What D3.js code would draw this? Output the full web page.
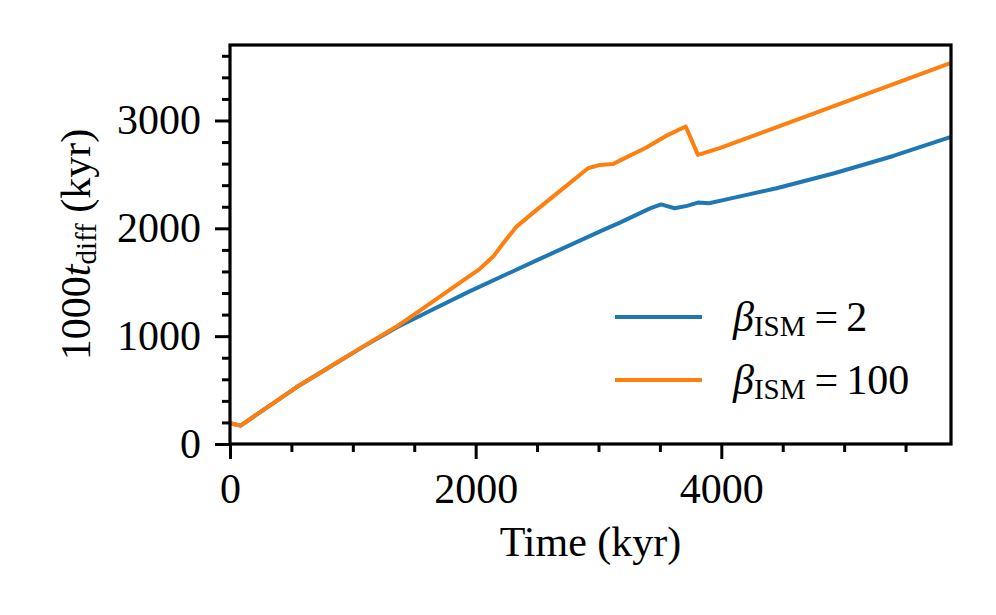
<!DOCTYPE html>
<html>
<head>
<meta charset="utf-8">
<script src="https://cdn.jsdelivr.net/npm/d3@7"></script>
<style>
  body { margin: 0; background: #fff; }
  svg text { font-family: "Liberation Serif", "Times New Roman", serif; fill: #000; }
</style>
</head>
<body>
<svg id="chart" width="996" height="615"></svg>
<script>
// time in kyr, values in kyr (1000 * t_diff)
var timeBeta2 = [0, 87, 270, 410, 540, 815, 1085, 1360, 1630, 1950, 2500, 3040, 3170, 3420, 3510, 3620, 3720, 3810, 3900, 4070, 4450, 4920, 5400, 5870];
var diffBeta2 = [192, 170, 315, 424, 526, 717, 903, 1083, 1235, 1415, 1705, 1985, 2050, 2185, 2222, 2186, 2208, 2239, 2233, 2275, 2372, 2511, 2671, 2848];

var timeBeta100 = [0, 87, 270, 410, 540, 815, 1085, 1360, 1546, 1817, 2034, 2143, 2224, 2333, 2496, 2685, 2915, 3011, 3119, 3173, 3390, 3550, 3710, 3810, 3987, 5870];
var diffBeta100 = [192, 170, 315, 424, 526, 717, 905, 1092, 1237, 1452, 1625, 1738, 1862, 2016, 2171, 2345, 2557, 2588, 2597, 2628, 2749, 2857, 2944, 2681, 2743, 3535];

var xMajor = [0, 2000, 4000];
var yMajor = [0, 1000, 2000, 3000];
var legendNums = ["2", "100"];
var colors = ["#1f77b4", "#ff7f0e"];

var svg = d3.select("#chart");
var m = { left: 230, right: 951, top: 45, bottom: 444 };

var x = d3.scaleLinear().domain([0, 5870]).range([m.left, m.right]);
var y = d3.scaleLinear().domain([0, 3700]).range([m.bottom, m.top]);

var series = [
  d3.zip(timeBeta2, diffBeta2),
  d3.zip(timeBeta100, diffBeta100)
];

var line = d3.line().x(function (d) { return x(d[0]); }).y(function (d) { return y(d[1]); });

svg.selectAll("path.series").data(series).enter().append("path")
  .attr("class", "series")
  .attr("d", line)
  .attr("fill", "none")
  .attr("stroke", function (d, i) { return colors[i]; })
  .attr("stroke-width", 4)
  .attr("stroke-linejoin", "round");

// axes
var xAxis = d3.axisBottom(x).tickValues(xMajor).tickSize(15).tickPadding(14).tickFormat(d3.format("d"));
var xMinor = d3.axisBottom(x).tickValues(d3.range(0, 5870, 500).filter(function (v) { return v % 2000; })).tickSize(8).tickFormat("");
var yAxis = d3.axisLeft(y).tickValues(yMajor).tickSize(15).tickPadding(14).tickFormat(d3.format("d"));
var yMinor = d3.axisLeft(y).tickValues(d3.range(0, 3700, 200).filter(function (v) { return v % 1000; })).tickSize(8).tickFormat("");

function styleAxis(g) {
  g.select(".domain").remove();
  g.selectAll("line").attr("stroke", "#000").attr("stroke-width", 3);
  g.selectAll("text").attr("font-size", 42).attr("font-family", "Liberation Serif");
}

svg.append("g").attr("transform", "translate(0," + m.bottom + ")").call(xAxis).call(styleAxis);
svg.append("g").attr("transform", "translate(0," + m.bottom + ")").call(xMinor).call(styleAxis);
svg.append("g").attr("transform", "translate(" + m.left + ",0)").call(yAxis).call(styleAxis);
svg.append("g").attr("transform", "translate(" + m.left + ",0)").call(yMinor).call(styleAxis);

svg.append("rect")
  .attr("x", m.left).attr("y", m.top)
  .attr("width", m.right - m.left).attr("height", m.bottom - m.top)
  .attr("fill", "none").attr("stroke", "#000").attr("stroke-width", 3.2);

// axis labels
svg.append("text")
  .attr("x", (m.left + m.right) / 2).attr("y", 556)
  .attr("text-anchor", "middle").attr("font-size", 42)
  .text("Time (kyr)");

var yl = svg.append("text")
  .attr("transform", "translate(90," + (m.top + m.bottom) / 2 + ") rotate(-90)")
  .attr("text-anchor", "middle").attr("font-size", 42);
yl.append("tspan").text("1000");
yl.append("tspan").attr("font-style", "italic").text("t");
yl.append("tspan").attr("font-size", 29).attr("dy", 6).text("diff");
yl.append("tspan").attr("dy", -6).text(" (kyr)");

// legend
var legend = svg.append("g").attr("transform", "translate(615,317)");
legendNums.forEach(function (n, i) {
  var g = legend.append("g").attr("transform", "translate(0," + i * 63 + ")");
  g.append("line").attr("x1", 0).attr("x2", 87).attr("y1", 0).attr("y2", 0)
    .attr("stroke", colors[i]).attr("stroke-width", 4);
  var t = g.append("text").attr("x", 118).attr("y", 14).attr("font-size", 42);
  t.append("tspan").attr("font-style", "italic").text("\u03b2");
  t.append("tspan").attr("font-size", 29).attr("dy", 5).text("ISM");
  t.append("tspan").attr("dy", -5).attr("dx", 9).text("=");
  t.append("tspan").attr("dx", 8).text(n);
});
</script>
</body>
</html>
